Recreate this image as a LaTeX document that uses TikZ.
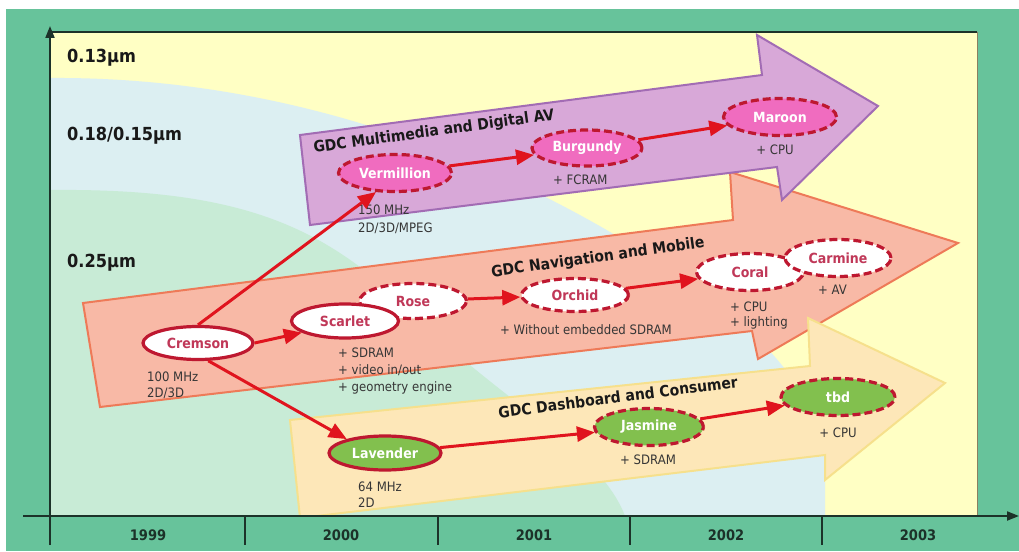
\documentclass[tikz,border=0pt]{standalone}
\usepackage{fontspec}
\newfontfamily\hb[FakeStretch=0.9]{DejaVu Sans}
\usetikzlibrary{arrows.meta,shapes.geometric}
\definecolor{bggreen}{HTML}{67C39B}
\definecolor{panelyellow}{HTML}{FFFFC4}
\definecolor{regblue}{HTML}{DCEFF2}
\definecolor{reggreen}{HTML}{C8EBD6}
\definecolor{purplefill}{HTML}{D8A8D8}
\definecolor{purpleedge}{HTML}{A26CB4}
\definecolor{salmonfill}{HTML}{F8B9A6}
\definecolor{salmonedge}{HTML}{EE7A58}
\definecolor{dashfill}{HTML}{FDE7B8}
\definecolor{dashedge}{HTML}{F6E08C}
\definecolor{pinkfill}{HTML}{F06CBF}
\definecolor{greenfill}{HTML}{82C04E}
\definecolor{ellred}{HTML}{BE1830}
\definecolor{connred}{HTML}{E0141E}
\definecolor{ltext}{HTML}{C03858}
\definecolor{notegray}{HTML}{363636}
\definecolor{axisdark}{HTML}{1C3229}
\definecolor{panelright}{HTML}{8A8060}
\begin{document}
\begin{tikzpicture}[x=1pt,y=-1pt,
  ell/.style={ellipse, inner sep=0pt, line width=3.2pt, font=\hb\bfseries\fontsize{14}{15}\selectfont},
  dsh/.style={dash pattern=on 8pt off 4pt},
  pinkell/.style={ell, dsh, fill=pinkfill, draw=ellred, text=white},
  whitesolid/.style={ell, fill=white, draw=ellred, text=ltext},
  whitedash/.style={ell, dsh, fill=white, draw=ellred, text=ltext},
  greensolid/.style={ell, fill=greenfill, draw=ellred, text=white},
  greendash/.style={ell, dsh, fill=greenfill, draw=ellred, text=white},
  conn/.style={draw=connred, line width=3pt, -{Triangle[length=18pt,width=15pt]}},
  note/.style={font=\hb\fontsize{13}{14}\selectfont, text=notegray, inner sep=0pt, anchor=west},
  gdc/.style={font=\hb\bfseries\fontsize{15.5}{17}\selectfont, text=black!90, inner sep=0pt},
  ylab/.style={font=\hb\bfseries\fontsize{18}{20}\selectfont, text=black!90, inner sep=0pt, anchor=base west},
  year/.style={font=\hb\bfseries\fontsize{14.5}{16}\selectfont, text=axisdark, inner sep=0pt, anchor=base},
  axisline/.style={draw=axisdark, line width=2pt},
  bigarrow/.style={line width=2pt, line join=miter}
]
\useasboundingbox (0,0) rectangle (1019,551);
% page background
\fill[white] (0,0) rectangle (1019,551);
\fill[bggreen] (6,9) rectangle (1019,551);
% panel and regions
\fill[panelyellow] (50,32) rectangle (977,516);
\begin{scope}
\clip (50,32) rectangle (977,516);
\fill[regblue] (50,78) .. controls (330,76) and (560,190) .. (700,290)
  .. controls (790,355) and (825,420) .. (825,460) -- (825,516) -- (50,516) -- cycle;
\fill[reggreen] (50,190) .. controls (250,188) and (330,230) .. (420,320)
  .. controls (500,400) and (600,450) .. (625,516) -- (50,516) -- cycle;
% big arrows
\filldraw[bigarrow, fill=salmonfill, draw=salmonedge]
  (83,303) -- (733,220) -- (730,172) -- (958,243) -- (758,359) -- (752,331) -- (100,407) -- cycle;
\filldraw[bigarrow, fill=purplefill, draw=purpleedge]
  (300,135) -- (762,75) -- (757,35) -- (878,106) -- (782,200) -- (777,167) -- (310,225) -- cycle;
\filldraw[bigarrow, fill=dashfill, draw=dashedge]
  (290,420) -- (810,366) -- (808,318) -- (945,383) -- (825,480) -- (825,455) -- (300,518) -- cycle;
\end{scope}
\draw[draw=axisdark, line width=1.5pt] (50,32) -- (977,32);
\draw[draw=panelright, line width=1pt] (977,32) -- (977,516);
% axes
\coordinate (yb) at (50,545);
\coordinate (yt) at (50,26);
\coordinate (xl) at (23,516);
\coordinate (xr) at (1019,516);
\draw[axisline, -{Triangle[length=12pt,width=9pt]}] (yb) -- (yt);
\draw[axisline, -{Triangle[length=12pt,width=9pt]}] (xl) -- (xr);
\foreach \tx in {245,438,630,822} \draw[axisline] (\tx,516) -- (\tx,545);
\node[year] (y1999) at (148,540) {1999};
\node[year] (y2000) at (341,540) {2000};
\node[year] (y2001) at (534,540) {2001};
\node[year] (y2002) at (726,540) {2002};
\node[year] (y2003) at (918,540) {2003};
\node[ylab] (l13) at (67,63) {0.13µm};
\node[ylab] (l18) at (67,140) {0.18/0.15µm};
\node[ylab] (l25) at (67,267) {0.25µm};
% GDC titles
\node[gdc, rotate=7.8] (gdcm) at (434,132) {GDC Multimedia and Digital AV};
\node[gdc, rotate=8] (gdcn) at (598,258) {GDC Navigation and Mobile};
\node[gdc, rotate=7.3] (gdcd) at (618,397) {GDC Dashboard and Consumer};
% ellipses
\node[pinkell, minimum width=113pt, minimum height=37pt] (verm) at (395,173) {Vermillion};
\node[pinkell, minimum width=110pt, minimum height=36pt] (burg) at (587,148) {Burgundy};
\node[pinkell, minimum width=113pt, minimum height=37pt] (maroon) at (780,117) {Maroon};
\node[whitedash, minimum width=107pt, minimum height=35pt] (rose) at (413,301) {Rose};
\node[whitesolid, minimum width=110pt, minimum height=33pt] (crem) at (198,343) {Cremson};
\node[whitesolid, minimum width=107pt, minimum height=34pt] (scar) at (345,321) {Scarlet};
\node[whitedash, minimum width=107pt, minimum height=33pt] (orch) at (575,295) {Orchid};
\node[whitedash, minimum width=107pt, minimum height=37pt] (coral) at (750,272) {Coral};
\node[whitedash, minimum width=106pt, minimum height=37pt] (carm) at (838,258) {Carmine};
\node[greensolid, minimum width=112pt, minimum height=34pt] (lav) at (385,453) {Lavender};
\node[greendash, minimum width=109pt, minimum height=37pt] (jas) at (649,427) {Jasmine};
\node[greendash, minimum width=114pt, minimum height=37pt] (tbd) at (838,397) {tbd};
% notes
\node[note] (n1) at (358,210) {150 MHz};
\node[note] (n2) at (358,228) {2D/3D/MPEG};
\node[note] (n3) at (553,180) {+ FCRAM};
\node[note, anchor=center] (n4) at (775,150) {+ CPU};
\node[note] (n5) at (147,377) {100 MHz};
\node[note] (n6) at (147,393) {2D/3D};
\node[note] (n7) at (338,353) {+ SDRAM};
\node[note] (n8) at (338,370) {+ video in/out};
\node[note] (n9) at (338,388) {+ geometry engine};
\node[note] (n10) at (500,330) {+ Without embedded SDRAM};
\node[note] (n11) at (730,307) {+ CPU};
\node[note] (n12) at (730,323) {+ lighting};
\node[note] (n13) at (818,290) {+ AV};
\node[note] (n14) at (358,487) {64 MHz};
\node[note] (n15) at (358,503) {2D};
\node[note] (n16) at (620,460) {+ SDRAM};
\node[note, anchor=center] (n17) at (838,433) {+ CPU};
% connectors
\draw[conn] (crem.north) -- (verm.225);
\draw[conn] (crem.east) -- (scar.195);
\draw[conn] (crem.-60) -- (lav.160);
\draw[conn] (verm) -- (burg);
\draw[conn] (burg) -- (maroon);
\draw[conn] (rose) -- (orch);
\draw[conn] (orch) -- (coral);
\draw[conn] (lav) -- (jas);
\draw[conn] (jas) -- (tbd);
\end{tikzpicture}
\end{document}
